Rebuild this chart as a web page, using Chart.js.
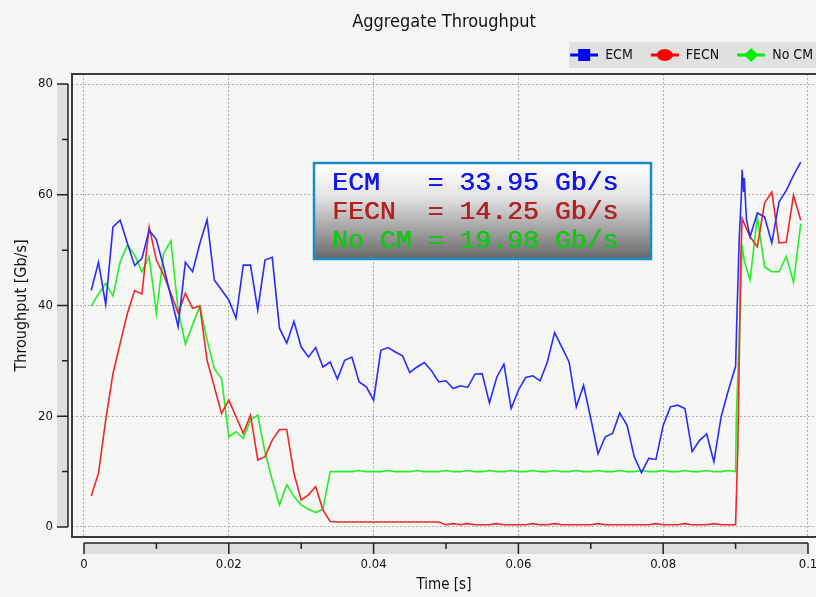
<!DOCTYPE html>
<html>
<head>
<meta charset="utf-8">
<title>Aggregate Throughput</title>
<script src="https://cdn.jsdelivr.net/npm/chart.js@4.4.1/dist/chart.umd.min.js"></script>
<style>
  html, body { margin: 0; padding: 0; background: #f4f7f4; }
  canvas { display: block; }
</style>
</head>
<body>
<canvas id="throughput-chart" width="816" height="597"></canvas>
<script>
// sample times [s], shared by the three series up to 0.090 s
var times = [
  0.001,0.002,0.003,0.004,0.005,0.006,0.007,0.008,0.009,0.010,
  0.011,0.012,0.013,0.014,0.015,0.016,0.017,0.018,0.019,0.020,
  0.021,0.022,0.023,0.024,0.025,0.026,0.027,0.028,0.029,0.030,
  0.031,0.032,0.033,0.034,0.035,0.036,0.037,0.038,0.039,0.040,
  0.041,0.042,0.043,0.044,0.045,0.046,0.047,0.048,0.049,0.050,
  0.051,0.052,0.053,0.054,0.055,0.056,0.057,0.058,0.059,0.060,
  0.061,0.062,0.063,0.064,0.065,0.066,0.067,0.068,0.069,0.070,
  0.071,0.072,0.073,0.074,0.075,0.076,0.077,0.078,0.079,0.080,
  0.081,0.082,0.083,0.084,0.085,0.086,0.087,0.088,0.089,0.090
];

var ecm = [
  42.7,47.8,40.2,54.2,55.4,51.2,47.2,48.5,53.6,51.9,
  47.0,41.6,36.2,47.8,46.1,51.2,55.5,44.6,42.8,41.0,
  37.7,47.3,47.3,39.2,48.2,48.7,35.9,33.2,37.1,32.5,
  30.7,32.4,28.9,29.8,26.7,30.1,30.7,26.2,25.3,22.9,
  31.9,32.4,31.6,30.9,27.9,28.9,29.7,28.2,26.2,26.4,
  25.0,25.5,25.2,27.6,27.7,22.4,27.0,29.4,21.4,24.7,
  27.0,27.3,26.4,29.8,35.1,32.5,29.8,21.7,25.6,19.6,
  13.2,16.3,16.9,20.6,18.4,12.7,9.8,12.4,12.2,18.4,
  21.7,22.0,21.4,13.6,15.6,16.8,11.8,19.9,24.7,29.0
];

var fecn = [
  5.6,9.7,19.3,27.7,33.2,38.6,42.7,42.1,54.2,48.2,
  45.5,42.2,38.6,42.2,39.5,39.9,30.1,25.3,20.5,22.9,
  19.9,16.9,20.2,12.1,12.7,15.7,17.6,17.6,9.7,4.9,
  5.8,7.3,3.1,1.0,0.9,0.9,0.9,0.9,0.9,0.9,
  0.9,0.9,0.9,0.9,0.9,0.9,0.9,0.9,0.9,0.4,
  0.6,0.4,0.6,0.4,0.4,0.4,0.6,0.4,0.4,0.4,
  0.4,0.6,0.4,0.4,0.6,0.4,0.4,0.4,0.4,0.4,
  0.6,0.4,0.4,0.4,0.4,0.4,0.4,0.4,0.6,0.4,
  0.4,0.4,0.6,0.4,0.4,0.4,0.6,0.4,0.4,0.4
];

var noCm = [
  39.9,42.1,44.0,41.7,47.9,50.9,49.1,46.1,48.8,38.6,
  49.4,51.7,39.2,33.0,36.5,39.8,33.8,28.6,26.8,16.3,
  17.2,16.0,19.3,20.2,13.5,8.5,4.0,7.6,5.5,4.0,
  3.2,2.6,3.2,10.0,10.0,10.0,10.0,10.2,10.0,10.0,
  10.0,10.2,10.0,10.0,10.0,10.2,10.0,10.0,10.0,10.2,
  10.0,10.0,10.2,10.0,10.0,10.2,10.0,10.0,10.2,10.0,
  10.0,10.2,10.0,10.0,10.2,10.0,10.0,10.2,10.0,10.0,
  10.2,10.0,10.0,10.2,10.0,10.0,10.2,10.0,10.0,10.2,
  10.0,10.0,10.2,10.0,10.0,10.2,10.0,10.0,10.2,10.0
];

// the jump near 0.090 s and the tail, sampled more finely
var ecmTailTimes = [0.0902,0.0905,0.0908,0.0909,0.0911,0.0912,0.0915,0.092,0.093,0.094,0.095,0.096,0.097,0.098,0.099];
var ecmTail = [39.0,52.0,60.0,64.5,60.5,63.0,55.5,52.4,56.7,56.0,51.3,58.7,60.8,63.5,65.9];
var fecnTailTimes = [0.0901,0.0903,0.0905,0.0907,0.0909,0.092,0.093,0.094,0.095,0.096,0.097,0.098,0.099];
var fecnTail = [5.0,14.0,30.0,48.0,55.7,52.4,50.6,58.5,60.5,51.3,51.4,59.9,55.4];
var noCmTailTimes = [0.0901,0.0903,0.0905,0.0907,0.0909,0.0912,0.092,0.093,0.094,0.095,0.096,0.097,0.098,0.099];
var noCmTail = [19.9,27.0,34.0,41.6,50.9,48.0,44.6,56.0,47.0,46.1,46.1,48.9,44.2,54.8];

// averages printed in the box
var summaryNames = ['ECM', 'FECN', 'No CM'];
var summaryGbps = ['33.95', '14.25', '19.98'];
var summaryColors = ['#1414ee', '#b22222', '#12c812'];

var xTicks = [0, 0.02, 0.04, 0.06, 0.08, 0.1];
var yTicks = [0, 20, 40, 60, 80];

var uiFont = '"DejaVu Sans Condensed", "Liberation Sans Narrow", "Liberation Sans", sans-serif';
var bg = '#f4f7f4';
var legendSize = 14;
var legendShift = 7;

function points(ts, vs, tailTs, tailVs) {
  var out = ts.map(function (t, i) { return { x: t, y: vs[i] }; });
  return out.concat(tailTs.map(function (t, i) { return { x: t, y: tailVs[i] }; }));
}

// legend icon: short thick line with a marker on it
function legendIcon(color, shape) {
  var cv = document.createElement('canvas');
  cv.width = 36; cv.height = 14;
  var c = cv.getContext('2d');
  c.strokeStyle = color; c.fillStyle = color; c.lineWidth = 3;
  c.beginPath(); c.moveTo(8, 7); c.lineTo(36, 7); c.stroke();
  c.beginPath();
  if (shape === 'square') {
    c.rect(16, 1, 12, 12);
  } else if (shape === 'circle') {
    c.ellipse(22, 7, 8, 6, 0, 0, Math.PI * 2);
  } else {
    c.moveTo(22, 0); c.lineTo(29, 7); c.lineTo(22, 14); c.lineTo(15, 7); c.closePath();
  }
  c.fill();
  return cv;
}
var icons = [legendIcon('#0000ff', 'square'), legendIcon('#ff0000', 'circle'), legendIcon('#00ee00', 'diamond')];

var backdrop = {
  id: 'backdrop',
  afterLayout: function (chart) {
    var lg = chart.legend;
    lg.top -= 2; lg.bottom -= 2;
    lg.left += legendShift; lg.right += legendShift;
  },
  beforeDraw: function (chart) {
    var c = chart.ctx;
    var lg = chart.legend;
    c.save();
    c.fillStyle = bg;
    c.fillRect(0, 0, chart.width, chart.height);
    var mid = lg.top + lg.options.labels.padding + legendSize / 2;
    c.fillStyle = '#dfe2df';
    c.fillRect(lg.legendHitBoxes[0].left + legendShift, mid - 13, chart.width, 26);
    c.restore();
  },
  afterDraw: function (chart) {
    var c = chart.ctx;
    var a = chart.chartArea;
    var xs = chart.scales.x, ys = chart.scales.y;
    c.save();
    // plot frame
    c.strokeStyle = '#3a3a3a';
    c.lineWidth = 2;
    c.strokeRect(a.left, a.top, a.right - a.left + 4, a.bottom - a.top);

    // x axis band below the frame
    var x0 = xs.getPixelForValue(0), x1 = xs.getPixelForValue(0.1);
    var bandTop = a.bottom + 6;
    c.fillStyle = '#dcdfdc';
    c.fillRect(x0, bandTop, x1 - x0, 11);
    c.strokeStyle = '#222';
    c.lineWidth = 1.5;
    c.beginPath();
    c.moveTo(x0, bandTop); c.lineTo(x1, bandTop);
    for (var i = 0; i <= 10; i++) {
      var px = xs.getPixelForValue(i * 0.01);
      c.moveTo(px, bandTop); c.lineTo(px, bandTop + (i % 2 === 0 ? 11 : 6));
    }
    c.stroke();

    // y axis band left of the frame
    var y0 = ys.getPixelForValue(0), y1 = ys.getPixelForValue(80);
    var bandRight = a.left - 4;
    c.fillStyle = '#dcdfdc';
    c.fillRect(bandRight - 11, y1, 11, y0 - y1);
    c.beginPath();
    c.moveTo(bandRight, y0); c.lineTo(bandRight, y1);
    for (var j = 0; j <= 8; j++) {
      var py = ys.getPixelForValue(j * 10);
      c.moveTo(bandRight, py); c.lineTo(bandRight - (j % 2 === 0 ? 11 : 6), py);
    }
    c.stroke();

    // summary box
    var bx = 314, by = 163, bw = 337, bh = 96;
    var grad = c.createLinearGradient(0, by, 0, by + bh);
    grad.addColorStop(0, '#ffffff');
    grad.addColorStop(0.35, '#e4e4e4');
    grad.addColorStop(1, '#686868');
    c.fillStyle = grad;
    c.fillRect(bx, by, bw, bh);
    c.strokeStyle = '#1c8cc4';
    c.lineWidth = 2.5;
    c.strokeRect(bx, by, bw, bh);
    c.font = '26.5px "Liberation Mono", "DejaVu Sans Mono", monospace';
    c.textBaseline = 'middle';
    c.textAlign = 'left';
    summaryNames.forEach(function (name, k) {
      c.fillStyle = summaryColors[k];
      var label = (name + '     ').slice(0, 6) + '= ' + summaryGbps[k] + ' Gb/s';
      // a second pass a little to the right gives the medium weight of the original
      c.fillText(label, bx + 18, by + 20 + k * 29);
      c.fillText(label, bx + 18.6, by + 20 + k * 29);
    });
    c.restore();
  }
};

var chart = new Chart(document.getElementById('throughput-chart'), {
  type: 'line',
  data: {
    datasets: [
      {
        label: 'ECM',
        data: points(times, ecm, ecmTailTimes, ecmTail),
        borderColor: '#2b2bff',
        borderWidth: 1.6,
        pointRadius: 0,
        fill: false
      },
      {
        label: 'FECN',
        data: points(times, fecn, fecnTailTimes, fecnTail),
        borderColor: '#f02828',
        borderWidth: 1.6,
        pointRadius: 0,
        fill: false
      },
      {
        label: 'No CM',
        data: points(times, noCm, noCmTailTimes, noCmTail),
        borderColor: '#28ee28',
        borderWidth: 1.6,
        pointRadius: 0,
        fill: false
      }
    ]
  },
  options: {
    responsive: false,
    animation: false,
    devicePixelRatio: 1,
    layout: { padding: 0 },
    plugins: {
      title: {
        display: true,
        text: 'Aggregate Throughput',
        fullSize: false,
        color: '#111',
        font: { family: uiFont, size: 18, weight: 'normal' },
        padding: { top: 12, bottom: 6.4 }
      },
      legend: {
        position: 'top',
        align: 'end',
        labels: {
          usePointStyle: true,
          pointStyleWidth: 36,
          padding: 10,
          color: '#111',
          font: { family: uiFont, size: legendSize },
          generateLabels: function (ch) {
            var items = Chart.defaults.plugins.legend.labels.generateLabels(ch);
            items.forEach(function (it, i) { it.pointStyle = icons[i]; });
            return items;
          }
        }
      },
      tooltip: { enabled: false }
    },
    scales: {
      x: {
        type: 'linear',
        min: -0.001657,
        max: 0.101105,
        afterFit: function (s) { s.height = 60; s.paddingLeft = 0; s.paddingRight = 0; },
        grid: { color: '#b0b0b0', drawTicks: false },
        border: { display: false, dash: [2, 2] },
        ticks: {
          stepSize: 0.01,
          includeBounds: false,
          autoSkip: false,
          maxRotation: 0,
          padding: 20,
          color: '#111',
          font: { family: uiFont, size: 13 },
          callback: function (v) {
            var r = Math.round(v * 100) / 100;
            return xTicks.indexOf(r) >= 0 ? String(r) : null;
          }
        },
        title: {
          display: true,
          text: 'Time [s]',
          color: '#111',
          font: { family: uiFont, size: 15 },
          padding: { top: 3, bottom: 3 }
        }
      },
      y: {
        min: -1.806,
        max: 81.806,
        afterFit: function (s) { s.width = 72; s.paddingTop = 0; s.paddingBottom = 0; },
        grid: { color: '#b0b0b0', drawTicks: false },
        border: { display: false, dash: [2, 2] },
        ticks: {
          stepSize: 10,
          includeBounds: false,
          autoSkip: false,
          padding: 19,
          color: '#111',
          font: { family: uiFont, size: 13 },
          callback: function (v) {
            return yTicks.indexOf(Math.round(v)) >= 0 ? String(Math.round(v)) : null;
          }
        },
        title: {
          display: true,
          text: 'Throughput [Gb/s]',
          color: '#111',
          font: { family: uiFont, size: 16 },
          padding: { top: 12, bottom: 0 }
        }
      }
    }
  },
  plugins: [backdrop]
});
</script>
</body>
</html>
